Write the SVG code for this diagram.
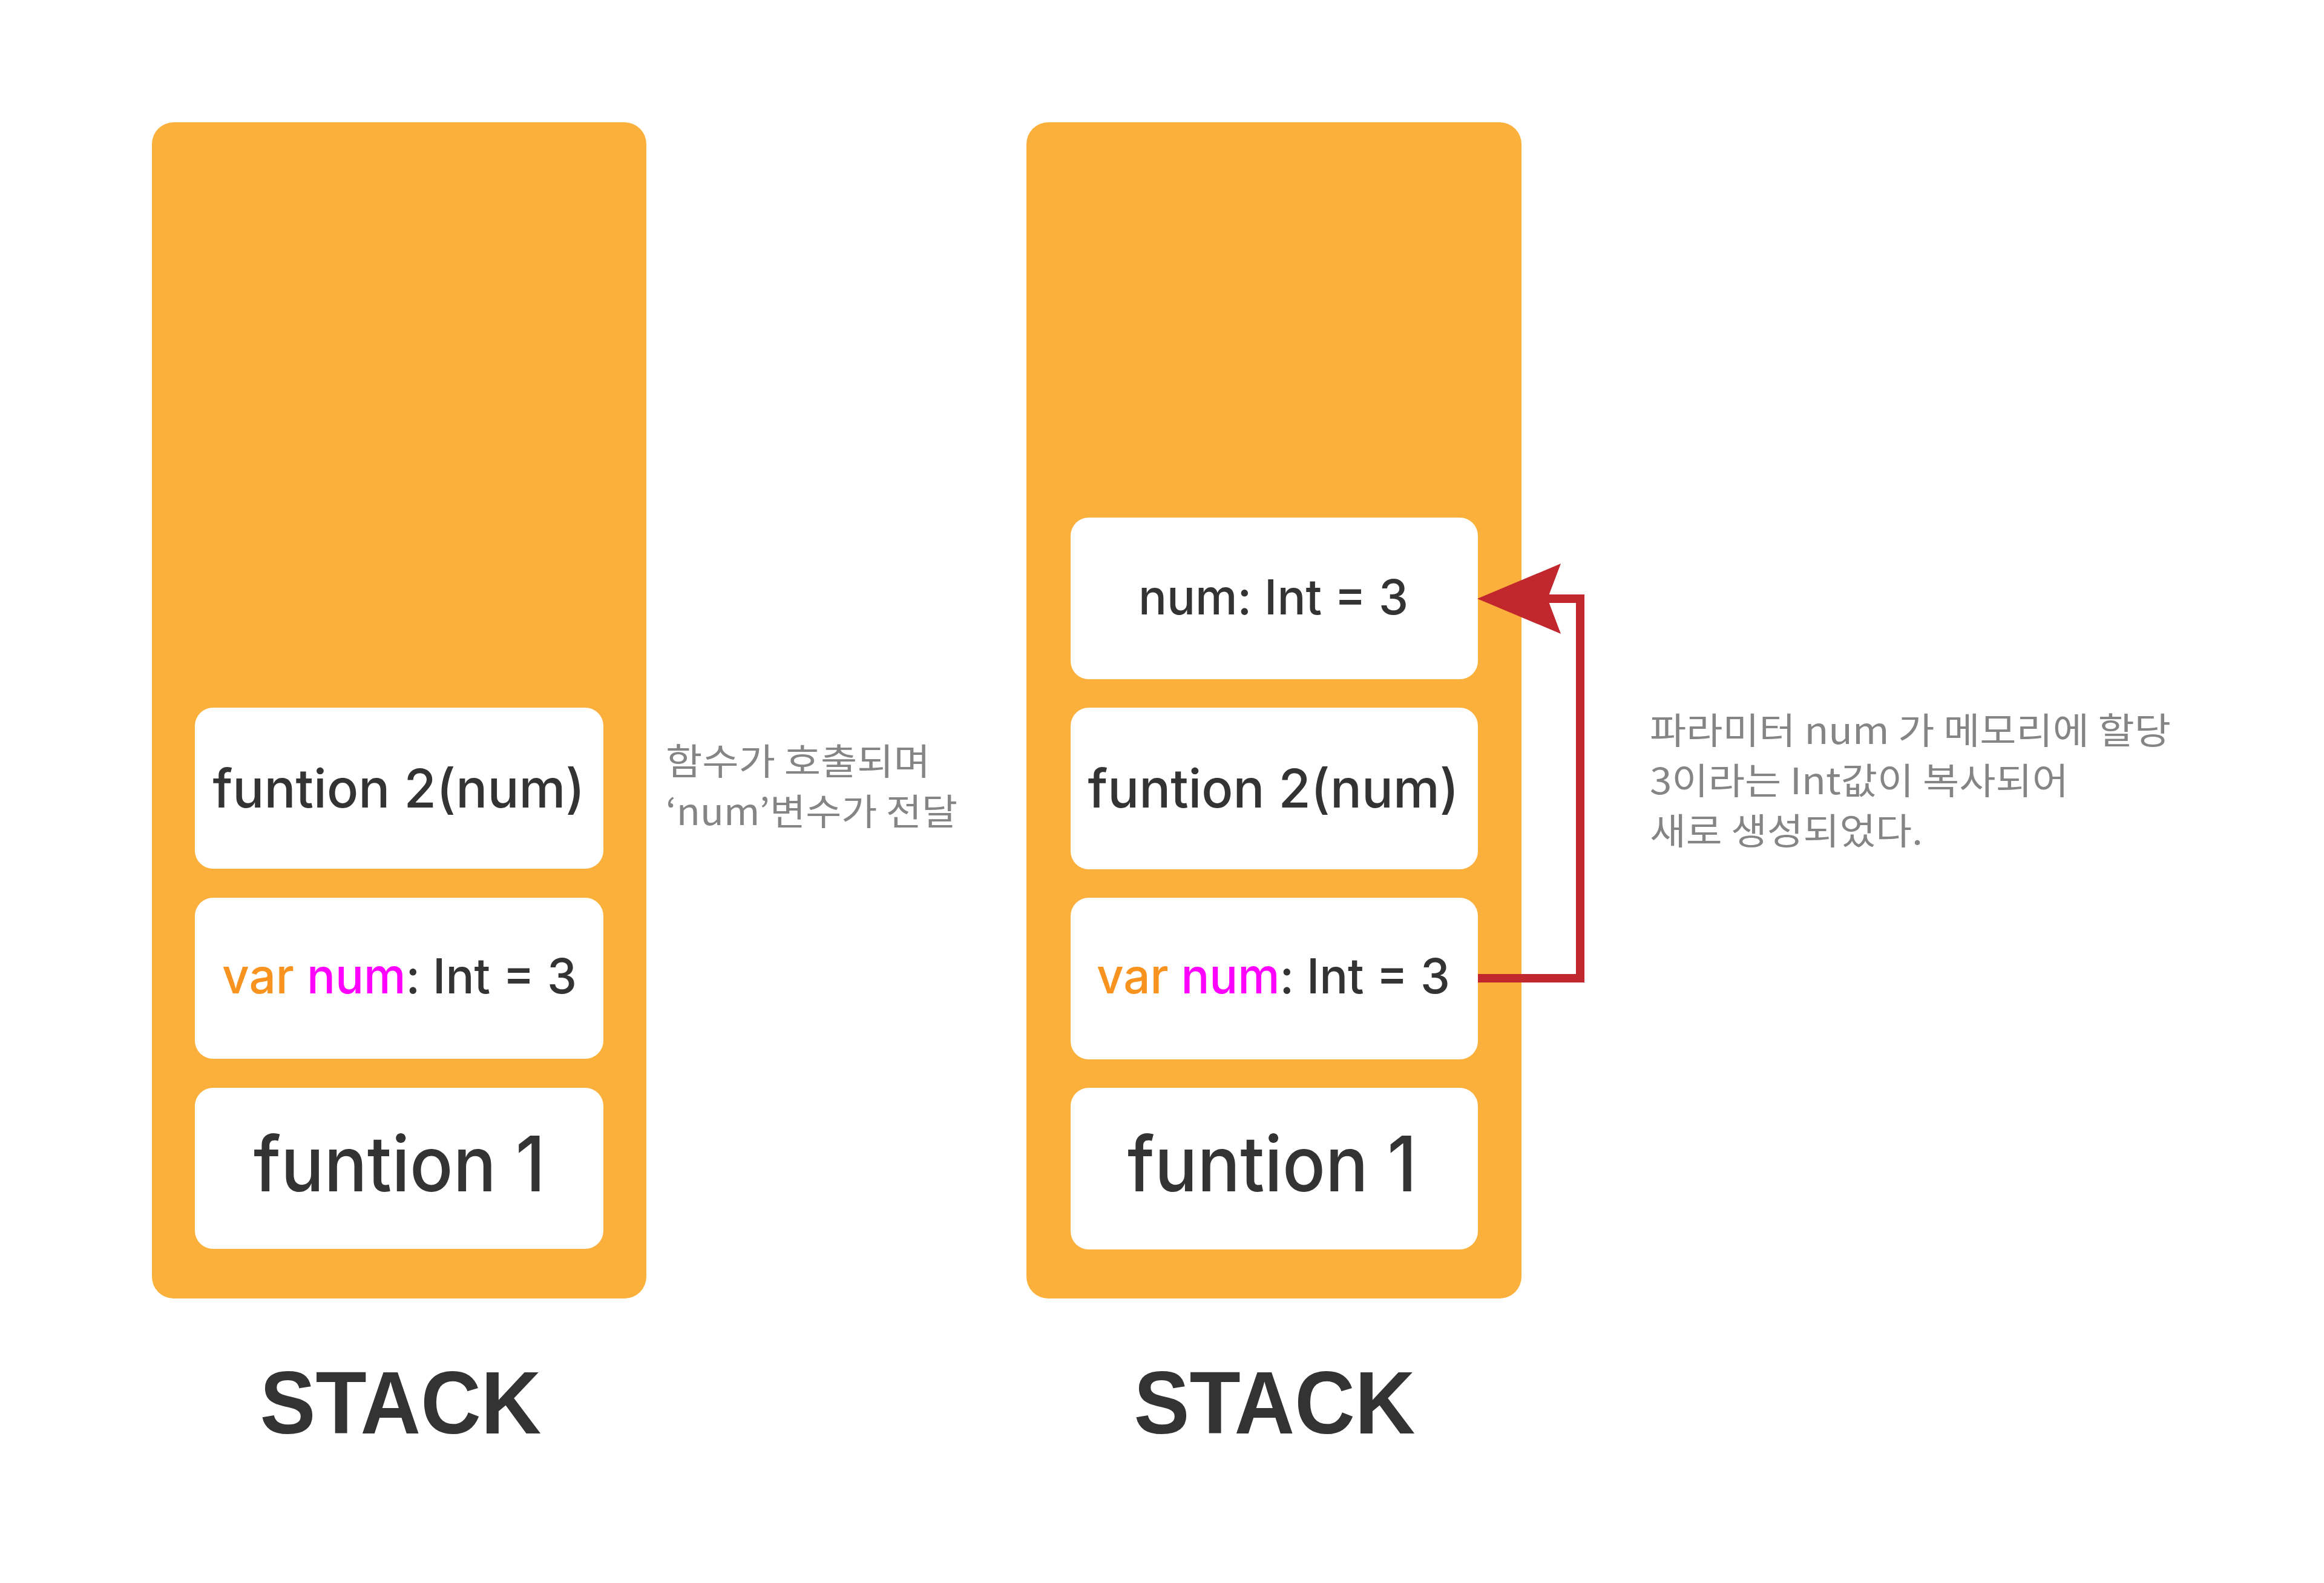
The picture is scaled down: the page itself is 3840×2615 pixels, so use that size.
<svg xmlns="http://www.w3.org/2000/svg" width="3840" height="2615" viewBox="0 0 3840 2615">
<style>
.panel{fill:#FBB03B}
.box{fill:#FFFFFF}
.t{font-family:Inter,"Noto Sans","Liberation Sans",sans-serif;font-weight:500;fill:#333333;text-anchor:middle}
.kw{fill:#F7931E}
.id{fill:#FF00FF}
.note{font-family:"Noto Sans CJK KR","Noto Sans",sans-serif;font-weight:400;font-size:60px;fill:#858585}
.title{font-family:"Liberation Sans",Arial,sans-serif;font-weight:700;font-size:147px;fill:#333333;text-anchor:middle}
.conn{fill:none;stroke:#C1272D;stroke-width:14}
</style>
<defs>
<marker id="ah" markerUnits="userSpaceOnUse" viewBox="0 0 138 116" markerWidth="138" markerHeight="116" refX="22" refY="58" orient="auto">
<polygon points="0,0 138,58 0,116 22,58" fill="#C1272D"/>
</marker>
</defs>
<rect width="3840" height="2615" fill="#FFFFFF"/>
<g id="stack-left">
<rect class="panel" x="251" y="202" width="817" height="1943" rx="36"/>
<g id="left-f2"><rect class="box" x="322" y="1169" width="675" height="266" rx="30"/><text class="t" x="659" y="1334" font-size="88" textLength="615" lengthAdjust="spacingAndGlyphs">funtion 2(num)</text></g>
<g id="left-var"><rect class="box" x="322" y="1483" width="675" height="266" rx="30"/><text class="t" x="660" y="1641" font-size="80" textLength="586" lengthAdjust="spacingAndGlyphs"><tspan class="kw">var</tspan> <tspan class="id">num</tspan>: Int = 3</text></g>
<g id="left-f1"><rect class="box" x="322" y="1797" width="675" height="266" rx="30"/><text class="t" x="660" y="1968" font-size="126" textLength="482" lengthAdjust="spacingAndGlyphs">funtion 1</text></g>
<text class="title" x="662" y="2368" textLength="465" lengthAdjust="spacingAndGlyphs">STACK</text>
</g>
<g id="note-left">
<text class="note" x="1100" y="1280" textLength="437" lengthAdjust="spacingAndGlyphs">함수가 호출되며</text>
<text class="note" x="1100" y="1363" textLength="482" lengthAdjust="spacingAndGlyphs">‘num’변수가 전달</text>
</g>
<g id="stack-right">
<rect class="panel" x="1696" y="202" width="818" height="1943" rx="36"/>
<g id="right-num"><rect class="box" x="1769" y="855" width="673" height="267" rx="30"/><text class="t" x="2104" y="1015" font-size="80" textLength="446" lengthAdjust="spacingAndGlyphs">num: Int = 3</text></g>
<g id="right-f2"><rect class="box" x="1769" y="1169" width="673" height="267" rx="30"/><text class="t" x="2104" y="1334" font-size="88" textLength="613" lengthAdjust="spacingAndGlyphs">funtion 2(num)</text></g>
<g id="right-var"><rect class="box" x="1769" y="1483" width="673" height="267" rx="30"/><text class="t" x="2104" y="1641" font-size="80" textLength="584" lengthAdjust="spacingAndGlyphs"><tspan class="kw">var</tspan> <tspan class="id">num</tspan>: Int = 3</text></g>
<g id="right-f1"><rect class="box" x="1769" y="1797" width="673" height="267" rx="30"/><text class="t" x="2102" y="1968" font-size="126" textLength="478" lengthAdjust="spacingAndGlyphs">funtion 1</text></g>
<text class="title" x="2106" y="2368" textLength="465" lengthAdjust="spacingAndGlyphs">STACK</text>
</g>
<g id="connectors">
<path class="conn" d="M2442 1616 H2611 V989 H2557" marker-end="url(#ah)"/>
</g>
<g id="note-right">
<text class="note" x="2726" y="1229" textLength="861" lengthAdjust="spacingAndGlyphs">파라미터 num 가 메모리에 할당</text>
<text class="note" x="2726" y="1312" textLength="692" lengthAdjust="spacingAndGlyphs">3이라는 Int값이 복사되어</text>
<text class="note" x="2726" y="1395" textLength="451" lengthAdjust="spacingAndGlyphs">새로 생성되었다.</text>
</g>
</svg>
